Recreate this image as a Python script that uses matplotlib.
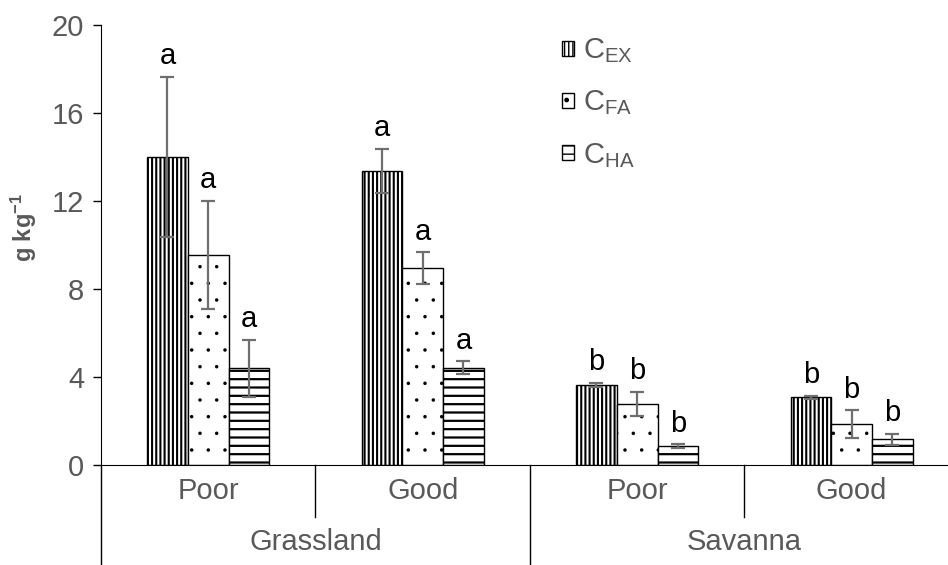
import matplotlib
matplotlib.use('Agg')
import matplotlib.pyplot as plt
import numpy as np

plt.rcParams['font.family'] = ['Liberation Sans', 'DejaVu Sans']
plt.rcParams['mathtext.fontset'] = 'custom'
plt.rcParams['mathtext.rm'] = 'Liberation Sans'
plt.rcParams['mathtext.it'] = 'Liberation Sans'
plt.rcParams['mathtext.bf'] = 'Liberation Sans:bold'

# data
conditions = ['Poor', 'Good', 'Poor', 'Good']
sites = ['Grassland', 'Savanna']
series = ['C$_{\\mathrm{EX}}$', 'C$_{\\mathrm{FA}}$', 'C$_{\\mathrm{HA}}$']
c_ex = [14.0, 13.38, 3.64, 3.08]
c_ex_err = [3.65, 1.0, 0.1, 0.07]
c_fa = [9.55, 8.95, 2.77, 1.86]
c_fa_err = [2.45, 0.72, 0.55, 0.63]
c_ha = [4.4, 4.42, 0.86, 1.18]
c_ha_err = [1.3, 0.3, 0.08, 0.25]
letters_ex = ['a', 'a', 'b', 'b']
letters_fa = ['a', 'a', 'b', 'b']
letters_ha = ['a', 'a', 'b', 'b']

gray = '#595959'
fs = 21
fig = plt.figure(figsize=(9.48, 5.65), dpi=100)
ax = fig.add_axes([0.1065, 0.177, 0.905, 0.779])

x = np.arange(len(conditions))
w = 0.19
vals = [c_ex, c_fa, c_ha]
errs = [c_ex_err, c_fa_err, c_ha_err]
letts = [letters_ex, letters_fa, letters_ha]
hatches = ['||||', '.', '--']
hatch_lw = [1.5, 0.1, 1.6]

for i in range(3):
    xs = x + (i - 1) * w
    with plt.rc_context({'hatch.linewidth': hatch_lw[i]}):
        ax.bar(xs, vals[i], w, color='white', edgecolor='black', linewidth=1,
               hatch=hatches[i], label=series[i])
    ax.errorbar(xs, vals[i], yerr=errs[i], fmt='none', ecolor='#6f6f6f',
                elinewidth=1.6, capsize=5, capthick=1.6)
    for xx, v, e, t in zip(xs, vals[i], errs[i], letts[i]):
        ax.annotate(t, (xx, v + e), xytext=(0, 9), textcoords='offset points',
                    ha='center', va='baseline', fontsize=fs, color='black')

ax.set_xlim(-0.5, 3.5)
ax.set_ylim(0, 20)
ax.set_yticks([0, 4, 8, 12, 16, 20])
ax.tick_params(axis='y', labelsize=fs, labelcolor=gray, length=6, width=1, pad=6)
ax.set_xticks([])
ax.spines['top'].set_visible(False)
ax.spines['right'].set_visible(False)
ax.set_ylabel('$\\mathbf{g\\ kg^{-1}}$', fontsize=17, color=gray)
ax.yaxis.set_label_coords(-0.072, 0.54)

# two-level category axis
tr = ax.get_xaxis_transform()
for sep in [0.5, 2.5]:
    ax.plot([sep, sep], [0, -0.118], color='black', lw=1, transform=tr, clip_on=False)
for sep in [-0.5, 1.5]:
    ax.plot([sep, sep], [0, -0.23], color='black', lw=1, transform=tr, clip_on=False)
for xi, c in zip(x, conditions):
    ax.text(xi, -0.06, c, transform=tr, ha='center', va='center', fontsize=fs, color=gray)
for k, s in enumerate(sites):
    ax.text(2 * k + 0.5, -0.175, s, transform=tr, ha='center', va='center', fontsize=fs, color=gray)

ax.legend(loc='upper left', bbox_to_anchor=(0.524, 1.0), frameon=False, fontsize=fs,
          labelcolor=gray, handlelength=0.42, handleheight=0.42, handletextpad=0.3,
          labelspacing=0.8, borderaxespad=0)

fig.savefig('out.png', dpi=100)
